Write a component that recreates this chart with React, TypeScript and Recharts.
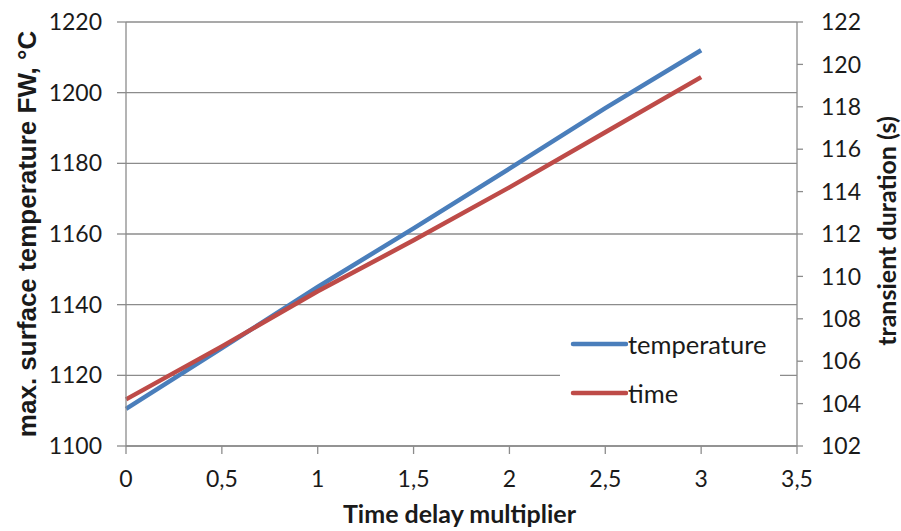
import React from 'react';
import { LineChart, Line, XAxis, YAxis, CartesianGrid, Legend, Label } from 'recharts';

// Time delay multiplier values (x)
const multipliers = [0, 0.5, 1, 1.5, 2, 2.5, 3];
// Max. surface temperature FW, °C (left axis)
const temperature = [1110.5, 1127.7, 1145, 1161.6, 1178.5, 1195.6, 1212];
// Transient duration, s (right axis)
const duration = [104.2, 106.7, 109.3, 111.7, 114.2, 116.8, 119.4];

const xTicks = [0, 0.5, 1, 1.5, 2, 2.5, 3, 3.5];
const leftTicks = [1100, 1120, 1140, 1160, 1180, 1200, 1220];
const rightTicks = [102, 104, 106, 108, 110, 112, 114, 116, 118, 120, 122];

const data = multipliers.map((x, i) => ({ x, temperature: temperature[i], time: duration[i] }));

const BLUE = '#4a7ebb';
const RED = '#be4b48';
const AXIS = '#8c8c8c';
const TEXT = '#1a1a1a';
const CAL = 'Lato, "Open Sans", sans-serif';
const TICK_FONT = 23;

const commaFmt = (v: number) => String(v).replace('.', ',');

const legendItems = [
  { name: 'temperature', color: BLUE },
  { name: 'time', color: RED },
];

const renderLegend = () => (
  <div style={{ position: 'relative', width: 220, height: 87, background: '#fff' }}>
    {legendItems.map((it, i) => (
      <div
        key={it.name}
        style={{
          position: 'absolute',
          left: 10,
          top: 4 + i * 49,
          display: 'flex',
          alignItems: 'center',
          height: 30,
        }}
      >
        <svg width={58} height={8} style={{ display: 'block' }}>
          <line x1={3} y1={4} x2={56} y2={4} stroke={it.color} strokeWidth={4.5} strokeLinecap="round" />
        </svg>
        <span style={{ fontFamily: CAL, fontSize: 25.5, color: TEXT, marginLeft: 0, lineHeight: '30px' }}>
          {it.name}
        </span>
      </div>
    ))}
  </div>
);

export default function App() {
  return (
    <div style={{ position: 'absolute', left: 0, top: 0, background: '#fff' }}>
      <LineChart width={901} height={531} data={data} margin={{ top: 22, right: 0, bottom: 0, left: 0 }}>
        <CartesianGrid yAxisId="left" vertical={false} stroke={AXIS} strokeWidth={1.3} />
        <XAxis
          dataKey="x"
          type="number"
          domain={[0, 3.5]}
          ticks={xTicks}
          tickFormatter={commaFmt}
          height={85}
          stroke={AXIS}
          strokeWidth={1.3}
          tickSize={8}
          tickMargin={17}
          tick={{ fill: TEXT, fontSize: TICK_FONT, fontFamily: CAL }}
        >
          <Label
            content={({ viewBox }: any) => (
              <text
                x={viewBox.x + viewBox.width / 2 - 2}
                y={viewBox.y + 77}
                textAnchor="middle"
                fontFamily={CAL}
                fontWeight="bold"
                fontSize={25}
                fill={TEXT}
              >
                Time delay multiplier
              </text>
            )}
          />
        </XAxis>
        <YAxis
          yAxisId="left"
          domain={[1100, 1220]}
          ticks={leftTicks}
          width={126}
          stroke={AXIS}
          strokeWidth={1.3}
          tickSize={9}
          tickMargin={15}
          tick={{ fill: TEXT, fontSize: TICK_FONT, fontFamily: CAL }}
        >
          <Label
            content={({ viewBox }: any) => {
              const cx = viewBox.x + 27;
              const cy = viewBox.y + viewBox.height / 2;
              return (
                <text
                  x={cx}
                  y={cy}
                  transform={`rotate(-90 ${cx} ${cy})`}
                  textAnchor="middle"
                  dominantBaseline="central"
                  fontFamily='"Liberation Sans", Arial, sans-serif'
                  fontWeight="bold"
                  fontSize={26}
                  fill={TEXT}
                >
                  max. surface temperature FW, °C
                </text>
              );
            }}
          />
        </YAxis>
        <YAxis
          yAxisId="right"
          orientation="right"
          domain={[102, 122]}
          ticks={rightTicks}
          width={104}
          stroke={AXIS}
          strokeWidth={1.3}
          tickSize={6}
          tickMargin={18}
          tick={{ fill: TEXT, fontSize: TICK_FONT, fontFamily: CAL }}
        >
          <Label
            content={({ viewBox }: any) => {
              const cx = viewBox.x + 89;
              const cy = viewBox.y + viewBox.height / 2 - 3;
              return (
                <text
                  x={cx}
                  y={cy}
                  transform={`rotate(-90 ${cx} ${cy})`}
                  textAnchor="middle"
                  dominantBaseline="central"
                  fontFamily={CAL}
                  fontWeight="bold"
                  fontSize={25}
                  fill={TEXT}
                >
                  transient duration (s)
                </text>
              );
            }}
          />
        </YAxis>
        <Line
          yAxisId="left"
          dataKey="temperature"
          stroke={BLUE}
          strokeWidth={4.5}
          dot={false}
          isAnimationActive={false}
        />
        <Line
          yAxisId="right"
          dataKey="time"
          stroke={RED}
          strokeWidth={4.5}
          dot={false}
          isAnimationActive={false}
        />
        <Legend
          layout="horizontal"
          verticalAlign="middle"
          align="center"
          content={renderLegend}
          wrapperStyle={{ position: 'absolute', left: 560, top: 325, width: 220, height: 87 }}
        />
      </LineChart>
    </div>
  );
}
